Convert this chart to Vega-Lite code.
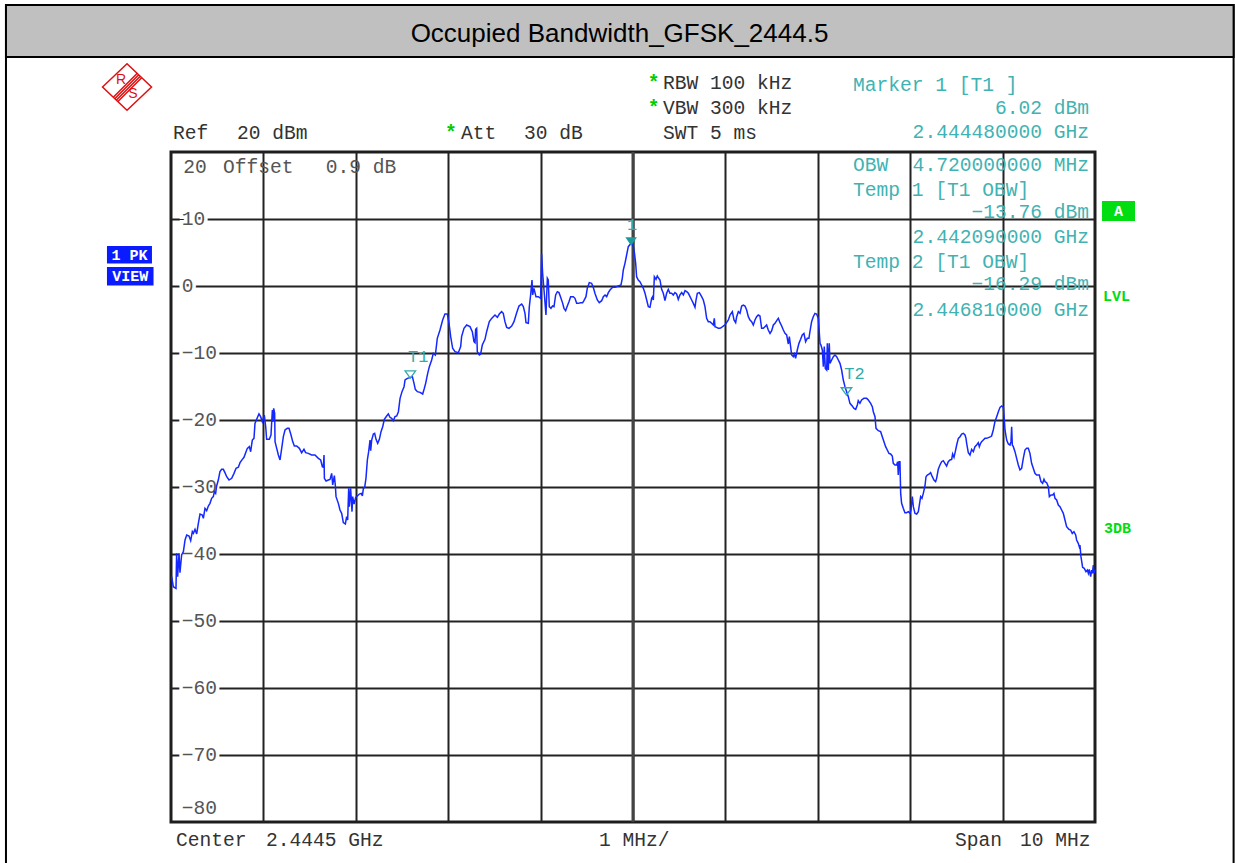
{
"$schema": "https://vega.github.io/schema/vega-lite/v6.json",
"width": 924, "height": 670,
"autosize": {"type": "none"},
"padding": {"left": 171, "top": 152, "right": 140, "bottom": 41},
"background": "white",
"config": {"view": {"stroke": "#1e1e1e", "strokeWidth": 3}, "text": {"font": "Liberation Mono", "fontSize": 19.6}},
"datasets": {
"trace": [
{"freq":2439.507,"level":-43.38},{"freq":2439.525,"level":-44.88},{"freq":2439.554,"level":-45.13},{"freq":2439.561,"level":-39.90},{"freq":2439.572,"level":-43.38},{"freq":2439.587,"level":-39.90},{"freq":2439.597,"level":-42.79},{"freq":2439.615,"level":-40.15},{"freq":2439.634,"level":-39.65},{"freq":2439.652,"level":-37.91},{"freq":2439.670,"level":-37.16},{"freq":2439.695,"level":-37.31},{"freq":2439.713,"level":-38.01},{"freq":2439.731,"level":-36.67},{"freq":2439.742,"level":-36.92},{"freq":2439.760,"level":-36.32},{"freq":2439.778,"level":-37.01},{"freq":2439.796,"level":-35.42},{"freq":2439.814,"level":-34.03},{"freq":2439.839,"level":-34.18},{"freq":2439.850,"level":-34.68},{"freq":2439.868,"level":-33.18},{"freq":2439.886,"level":-33.53},{"freq":2439.904,"level":-32.84},{"freq":2439.922,"level":-32.44},{"freq":2439.940,"level":-31.69},{"freq":2439.958,"level":-31.44},{"freq":2439.969,"level":-30.70},{"freq":2439.983,"level":-30.95},{"freq":2439.994,"level":-29.85},{"freq":2440.012,"level":-28.96},{"freq":2440.030,"level":-27.71},{"freq":2440.048,"level":-27.36},{"freq":2440.066,"level":-27.36},{"freq":2440.084,"level":-27.86},{"freq":2440.103,"level":-28.46},{"freq":2440.128,"level":-28.96},{"freq":2440.157,"level":-28.71},{"freq":2440.182,"level":-27.96},{"freq":2440.204,"level":-27.21},{"freq":2440.229,"level":-27.06},{"freq":2440.247,"level":-26.37},{"freq":2440.272,"level":-25.87},{"freq":2440.290,"level":-25.57},{"freq":2440.308,"level":-24.88},{"freq":2440.326,"level":-24.23},{"freq":2440.348,"level":-23.98},{"freq":2440.362,"level":-24.73},{"freq":2440.380,"level":-22.99},{"freq":2440.398,"level":-22.74},{"freq":2440.409,"level":-20.50},{"freq":2440.427,"level":-19.90},{"freq":2440.452,"level":-19.10},{"freq":2440.470,"level":-19.50},{"freq":2440.488,"level":-20.25},{"freq":2440.510,"level":-19.25},{"freq":2440.525,"level":-21.00},{"freq":2440.535,"level":-22.89},{"freq":2440.564,"level":-22.89},{"freq":2440.582,"level":-22.24},{"freq":2440.597,"level":-18.51},{"freq":2440.604,"level":-20.25},{"freq":2440.611,"level":-18.26},{"freq":2440.622,"level":-19.00},{"freq":2440.626,"level":-23.23},{"freq":2440.644,"level":-24.23},{"freq":2440.662,"level":-25.22},{"freq":2440.680,"level":-25.97},{"freq":2440.698,"level":-24.23},{"freq":2440.716,"level":-22.49},{"freq":2440.734,"level":-21.49},{"freq":2440.759,"level":-21.24},{"freq":2440.777,"level":-21.24},{"freq":2440.799,"level":-22.24},{"freq":2440.817,"level":-23.23},{"freq":2440.835,"level":-23.88},{"freq":2440.860,"level":-23.88},{"freq":2440.889,"level":-24.23},{"freq":2440.914,"level":-24.88},{"freq":2440.939,"level":-24.38},{"freq":2440.957,"level":-24.88},{"freq":2440.986,"level":-24.98},{"freq":2441.022,"level":-25.22},{"freq":2441.058,"level":-25.22},{"freq":2441.095,"level":-25.72},{"freq":2441.120,"level":-25.97},{"freq":2441.138,"level":-26.97},{"freq":2441.149,"level":-27.06},{"freq":2441.156,"level":-25.22},{"freq":2441.160,"level":-28.71},{"freq":2441.178,"level":-29.10},{"freq":2441.203,"level":-28.96},{"freq":2441.221,"level":-28.86},{"freq":2441.239,"level":-27.96},{"freq":2441.250,"level":-29.70},{"freq":2441.268,"level":-28.31},{"freq":2441.279,"level":-29.85},{"freq":2441.286,"level":-31.44},{"freq":2441.311,"level":-32.44},{"freq":2441.329,"level":-33.43},{"freq":2441.347,"level":-33.93},{"freq":2441.365,"level":-35.32},{"freq":2441.387,"level":-35.52},{"freq":2441.401,"level":-34.43},{"freq":2441.412,"level":-34.93},{"freq":2441.423,"level":-30.20},{"freq":2441.430,"level":-32.94},{"freq":2441.444,"level":-30.20},{"freq":2441.459,"level":-33.68},{"freq":2441.466,"level":-31.44},{"freq":2441.481,"level":-32.54},{"freq":2441.499,"level":-31.54},{"freq":2441.517,"level":-31.34},{"freq":2441.538,"level":-31.05},{"freq":2441.560,"level":-30.95},{"freq":2441.571,"level":-31.34},{"freq":2441.582,"level":-30.20},{"freq":2441.596,"level":-30.05},{"freq":2441.610,"level":-28.71},{"freq":2441.625,"level":-25.97},{"freq":2441.639,"level":-24.73},{"freq":2441.654,"level":-22.99},{"freq":2441.661,"level":-24.58},{"freq":2441.672,"level":-22.99},{"freq":2441.690,"level":-22.09},{"freq":2441.704,"level":-21.99},{"freq":2441.719,"level":-22.89},{"freq":2441.737,"level":-23.48},{"freq":2441.755,"level":-22.89},{"freq":2441.773,"level":-21.74},{"freq":2441.791,"level":-21.00},{"freq":2441.809,"level":-19.90},{"freq":2441.834,"level":-19.40},{"freq":2441.852,"level":-19.10},{"freq":2441.870,"level":-19.60},{"freq":2441.888,"level":-19.75},{"freq":2441.906,"level":-20.10},{"freq":2441.924,"level":-19.50},{"freq":2441.943,"level":-19.40},{"freq":2441.961,"level":-18.76},{"freq":2441.979,"level":-16.77},{"freq":2442.000,"level":-15.77},{"freq":2442.022,"level":-15.03},
{"freq":2442.033,"level":-14.03},{"freq":2442.058,"level":-13.78},{"freq":2442.087,"level":-13.68},{"freq":2442.112,"level":-13.53},{"freq":2442.130,"level":-14.53},{"freq":2442.144,"level":-15.42},{"freq":2442.166,"level":-15.77},{"freq":2442.195,"level":-15.87},{"freq":2442.224,"level":-16.12},{"freq":2442.242,"level":-15.27},{"freq":2442.256,"level":-14.53},{"freq":2442.278,"level":-13.03},{"freq":2442.296,"level":-12.04},{"freq":2442.321,"level":-11.04},{"freq":2442.339,"level":-10.05},{"freq":2442.361,"level":-10.30},{"freq":2442.382,"level":-7.81},{"freq":2442.411,"level":-6.57},{"freq":2442.440,"level":-5.07},{"freq":2442.465,"level":-4.18},{"freq":2442.491,"level":-4.18},{"freq":2442.509,"level":-5.57},{"freq":2442.527,"level":-7.56},{"freq":2442.548,"level":-9.30},{"freq":2442.574,"level":-9.80},{"freq":2442.610,"level":-9.95},
{"freq":2442.635,"level":-9.05},{"freq":2442.645,"level":-7.56},{"freq":2442.671,"level":-6.32},{"freq":2442.700,"level":-5.82},{"freq":2442.736,"level":-6.07},{"freq":2442.761,"level":-6.82},{"freq":2442.779,"level":-8.31},{"freq":2442.790,"level":-8.46},{"freq":2442.797,"level":-6.47},{"freq":2442.808,"level":-6.32},{"freq":2442.815,"level":-9.80},{"freq":2442.837,"level":-10.30},{"freq":2442.851,"level":-10.15},{"freq":2442.869,"level":-8.81},{"freq":2442.898,"level":-7.96},{"freq":2442.916,"level":-6.82},{"freq":2442.945,"level":-5.32},{"freq":2442.970,"level":-4.83},{"freq":2443.006,"level":-4.33},{"freq":2443.032,"level":-4.68},{"freq":2443.053,"level":-4.18},{"freq":2443.078,"level":-3.83},{"freq":2443.096,"level":-4.08},{"freq":2443.114,"level":-5.32},{"freq":2443.133,"level":-6.17},{"freq":2443.158,"level":-6.32},{"freq":2443.187,"level":-5.97},{"freq":2443.212,"level":-5.32},{"freq":2443.241,"level":-3.98},{"freq":2443.266,"level":-2.99},{"freq":2443.295,"level":-2.69},{"freq":2443.313,"level":-3.08},{"freq":2443.331,"level":-4.08},{"freq":2443.342,"level":-5.47},{"freq":2443.367,"level":-5.57},{"freq":2443.378,"level":-3.08},{"freq":2443.392,"level":-1.34},{"freq":2443.407,"level":0.90},{"freq":2443.414,"level":-1.34},{"freq":2443.428,"level":-0.35},{"freq":2443.450,"level":-1.59},{"freq":2443.475,"level":-1.59},{"freq":2443.500,"level":-1.84},{"freq":2443.511,"level":4.78},{"freq":2443.522,"level":1.89},{"freq":2443.537,"level":-0.60},{"freq":2443.558,"level":-4.33},{"freq":2443.573,"level":1.15},{"freq":2443.583,"level":0.90},{"freq":2443.594,"level":-3.08},{"freq":2443.612,"level":-3.33},{"freq":2443.630,"level":-2.99},{"freq":2443.645,"level":-3.08},{"freq":2443.663,"level":-1.34},{"freq":2443.681,"level":-0.85},{"freq":2443.699,"level":-0.99},{"freq":2443.717,"level":-1.69},{"freq":2443.739,"level":-2.59},{"freq":2443.753,"level":-3.33},{"freq":2443.771,"level":-3.68},{"freq":2443.789,"level":-2.99},{"freq":2443.807,"level":-2.34},{"freq":2443.825,"level":-1.59},{"freq":2443.854,"level":-1.59},{"freq":2443.872,"level":-1.84},{"freq":2443.890,"level":-2.59},{"freq":2443.908,"level":-2.59},{"freq":2443.933,"level":-2.49},{"freq":2443.955,"level":-2.49},{"freq":2443.969,"level":-2.19},{"freq":2443.991,"level":-1.59},{"freq":2444.005,"level":-0.35},{"freq":2444.027,"level":0.50},{"freq":2444.052,"level":0.40},{"freq":2444.070,"level":-0.20},{"freq":2444.088,"level":-1.09},{"freq":2444.114,"level":-2.09},{"freq":2444.135,"level":-2.49},{"freq":2444.161,"level":-2.19},{"freq":2444.179,"level":-1.59},{"freq":2444.197,"level":-1.34},{"freq":2444.215,"level":-1.59},{"freq":2444.233,"level":-0.99},{"freq":2444.251,"level":-0.60},{"freq":2444.280,"level":-0.20},{"freq":2444.305,"level":-0.20},{"freq":2444.341,"level":0.00},{"freq":2444.370,"level":0.15},{"freq":2444.384,"level":1.15},{"freq":2444.395,"level":2.39},{"freq":2444.413,"level":3.38},{"freq":2444.431,"level":4.63},{"freq":2444.449,"level":5.87},{"freq":2444.474,"level":6.27},{"freq":2444.496,"level":6.37},{"freq":2444.514,"level":5.12},{"freq":2444.529,"level":3.38},{"freq":2444.539,"level":1.39},{"freq":2444.557,"level":0.90},{"freq":2444.575,"level":0.65},{"freq":2444.594,"level":0.15},{"freq":2444.612,"level":-0.35},{"freq":2444.630,"level":-1.09},{"freq":2444.648,"level":-2.09},{"freq":2444.666,"level":-3.08},{"freq":2444.684,"level":-3.18},{"freq":2444.702,"level":-1.84},{"freq":2444.713,"level":-1.59},{"freq":2444.720,"level":-2.09},{"freq":2444.731,"level":1.39},{"freq":2444.749,"level":0.99},{"freq":2444.763,"level":1.49},{"freq":2444.778,"level":1.15},{"freq":2444.792,"level":0.90},{"freq":2444.810,"level":-0.50},{"freq":2444.828,"level":-1.09},{"freq":2444.846,"level":-2.19},{"freq":2444.864,"level":-1.09},{"freq":2444.882,"level":-0.50},{"freq":2444.900,"level":-1.09},{"freq":2444.918,"level":-1.09},{"freq":2444.936,"level":-1.34},{"freq":2444.954,"level":-0.99},{"freq":2444.972,"level":-1.19},{"freq":2444.990,"level":-1.99},{"freq":2445.008,"level":-1.34},{"freq":2445.027,"level":-0.99},{"freq":2445.045,"level":-1.34},{"freq":2445.063,"level":-0.70},{"freq":2445.081,"level":-0.85},{"freq":2445.099,"level":-1.09},{"freq":2445.117,"level":-1.59},{"freq":2445.135,"level":-2.09},{"freq":2445.153,"level":-2.59},{"freq":2445.171,"level":-3.18},{"freq":2445.182,"level":-2.09},{"freq":2445.196,"level":-1.09},{"freq":2445.218,"level":-0.99},{"freq":2445.243,"level":-1.59},{"freq":2445.261,"level":-2.09},{"freq":2445.279,"level":-3.08},{"freq":2445.297,"level":-4.83},{"freq":2445.315,"level":-5.32},{"freq":2445.333,"level":-5.32},{"freq":2445.351,"level":-5.57},{"freq":2445.369,"level":-5.82},{"freq":2445.380,"level":-4.83},{"freq":2445.387,"level":-6.07},{"freq":2445.405,"level":-6.17},{"freq":2445.423,"level":-6.32},{"freq":2445.441,"level":-6.32},{"freq":2445.459,"level":-6.17},{"freq":2445.477,"level":-5.97},{"freq":2445.495,"level":-5.82},{"freq":2445.513,"level":-5.47},{"freq":2445.532,"level":-5.07},{"freq":2445.550,"level":-4.33},{"freq":2445.575,"level":-3.83},{"freq":2445.593,"level":-5.07},{"freq":2445.611,"level":-5.47},{"freq":2445.622,"level":-4.58},{"freq":2445.640,"level":-3.83},{"freq":2445.658,"level":-4.08},{"freq":2445.676,"level":-2.99},{"freq":2445.694,"level":-2.84},{"freq":2445.712,"level":-2.99},{"freq":2445.730,"level":-3.58},{"freq":2445.748,"level":-4.58},{"freq":2445.766,"level":-5.07},{"freq":2445.784,"level":-5.32},{"freq":2445.802,"level":-5.82},{"freq":2445.820,"level":-5.07},{"freq":2445.838,"level":-4.58},{"freq":2445.856,"level":-4.33},{"freq":2445.874,"level":-4.48},{"freq":2445.892,"level":-6.32},{"freq":2445.910,"level":-6.32},{"freq":2445.928,"level":-6.07},{"freq":2445.946,"level":-5.82},{"freq":2445.964,"level":-6.57},{"freq":2445.983,"level":-7.07},{"freq":2446.001,"level":-6.67},{"freq":2446.019,"level":-5.82},{"freq":2446.037,"level":-5.57},{"freq":2446.055,"level":-5.17},{"freq":2446.073,"level":-4.83},{"freq":2446.091,"level":-5.47},{"freq":2446.109,"level":-5.97},{"freq":2446.127,"level":-6.57},{"freq":2446.145,"level":-7.07},{"freq":2446.163,"level":-7.31},{"freq":2446.181,"level":-8.66},{"freq":2446.192,"level":-7.56},{"freq":2446.206,"level":-9.05},{"freq":2446.217,"level":-10.30},{"freq":2446.235,"level":-10.55},{"freq":2446.246,"level":-10.15},{"freq":2446.260,"level":-10.80},{"freq":2446.278,"level":-9.55},{"freq":2446.296,"level":-8.56},{"freq":2446.314,"level":-7.96},{"freq":2446.332,"level":-7.31},{"freq":2446.350,"level":-7.07},{"freq":2446.368,"level":-8.31},{"freq":2446.386,"level":-7.81},{"freq":2446.404,"level":-7.81},{"freq":2446.415,"level":-6.82},{"freq":2446.433,"level":-5.32},{"freq":2446.451,"level":-4.58},{"freq":2446.469,"level":-4.08},{"freq":2446.487,"level":-4.18},{"freq":2446.506,"level":-4.83},{"freq":2446.524,"level":-8.56},{"freq":2446.534,"level":-8.81},{"freq":2446.549,"level":-9.55},{"freq":2446.560,"level":-12.04},{"freq":2446.570,"level":-9.05},{"freq":2446.581,"level":-12.29},{"freq":2446.596,"level":-12.54},{"freq":2446.603,"level":-8.56},{"freq":2446.614,"level":-12.54},{"freq":2446.624,"level":-8.56},{"freq":2446.632,"level":-11.54},{"freq":2446.650,"level":-11.04},{"freq":2446.668,"level":-10.55},{"freq":2446.686,"level":-10.30},{"freq":2446.704,"level":-10.55},{"freq":2446.722,"level":-11.04},{"freq":2446.740,"level":-11.54},{"freq":2446.758,"level":-12.54},{"freq":2446.776,"level":-14.03},{"freq":2446.794,"level":-15.02},{"freq":2446.812,"level":-15.77},{"freq":2446.830,"level":-16.52},
{"freq":2446.848,"level":-17.51},{"freq":2446.873,"level":-17.91},{"freq":2446.892,"level":-18.26},{"freq":2446.910,"level":-18.41},{"freq":2446.928,"level":-17.76},{"freq":2446.938,"level":-17.11},{"freq":2446.956,"level":-17.51},{"freq":2446.974,"level":-17.01},{"freq":2446.999,"level":-16.77},{"freq":2447.029,"level":-16.77},{"freq":2447.047,"level":-17.01},{"freq":2447.072,"level":-17.51},{"freq":2447.090,"level":-18.01},{"freq":2447.101,"level":-18.76},{"freq":2447.119,"level":-19.50},{"freq":2447.130,"level":-21.24},{"freq":2447.155,"level":-21.59},{"freq":2447.180,"level":-21.74},{"freq":2447.198,"level":-22.49},{"freq":2447.216,"level":-23.23},{"freq":2447.234,"level":-23.98},{"freq":2447.252,"level":-24.48},{"freq":2447.270,"level":-24.98},{"freq":2447.288,"level":-25.07},{"freq":2447.306,"level":-25.37},{"freq":2447.317,"level":-26.47},{"freq":2447.335,"level":-26.72},{"freq":2447.353,"level":-26.72},{"freq":2447.364,"level":-26.22},{"freq":2447.371,"level":-28.21},{"freq":2447.379,"level":-26.22},{"freq":2447.389,"level":-26.22},{"freq":2447.397,"level":-30.95},{"freq":2447.407,"level":-32.44},{"freq":2447.425,"level":-33.18},{"freq":2447.443,"level":-33.83},{"freq":2447.461,"level":-33.83},{"freq":2447.480,"level":-33.68},{"freq":2447.498,"level":-33.93},{"freq":2447.508,"level":-33.43},{"freq":2447.523,"level":-31.44},{"freq":2447.534,"level":-32.94},{"freq":2447.552,"level":-33.93},{"freq":2447.570,"level":-34.03},{"freq":2447.588,"level":-33.68},{"freq":2447.599,"level":-32.69},{"freq":2447.613,"level":-31.44},{"freq":2447.627,"level":-31.69},{"freq":2447.642,"level":-30.95},{"freq":2447.660,"level":-29.85},{"freq":2447.671,"level":-28.46},{"freq":2447.685,"level":-28.21},{"freq":2447.707,"level":-28.06},{"freq":2447.721,"level":-27.86},{"freq":2447.739,"level":-28.46},{"freq":2447.757,"level":-28.96},{"freq":2447.775,"level":-29.20},{"freq":2447.786,"level":-28.71},{"freq":2447.804,"level":-27.36},{"freq":2447.822,"level":-26.72},{"freq":2447.840,"level":-26.22},{"freq":2447.858,"level":-26.07},{"freq":2447.876,"level":-26.47},{"freq":2447.894,"level":-26.87},{"freq":2447.912,"level":-26.22},{"freq":2447.930,"level":-25.97},{"freq":2447.949,"level":-25.87},{"freq":2447.959,"level":-25.07},{"freq":2447.974,"level":-25.57},{"freq":2447.988,"level":-24.73},{"freq":2448.003,"level":-23.73},{"freq":2448.021,"level":-22.74},{"freq":2448.039,"level":-22.49},{"freq":2448.057,"level":-22.09},{"freq":2448.075,"level":-21.99},{"freq":2448.093,"level":-22.24},{"freq":2448.104,"level":-22.74},{"freq":2448.111,"level":-23.48},{"freq":2448.129,"level":-24.88},{"freq":2448.147,"level":-25.22},{"freq":2448.165,"level":-24.38},{"freq":2448.183,"level":-24.73},{"freq":2448.201,"level":-23.98},{"freq":2448.219,"level":-23.73},{"freq":2448.237,"level":-23.38},{"freq":2448.248,"level":-23.98},{"freq":2448.262,"level":-23.48},{"freq":2448.273,"level":-23.23},{"freq":2448.291,"level":-22.99},{"freq":2448.309,"level":-22.74},{"freq":2448.327,"level":-22.74},{"freq":2448.353,"level":-22.59},{"freq":2448.371,"level":-22.49},{"freq":2448.381,"level":-22.39},{"freq":2448.399,"level":-21.49},{"freq":2448.417,"level":-20.25},{"freq":2448.436,"level":-19.50},{"freq":2448.454,"level":-18.76},{"freq":2448.472,"level":-18.11},{"freq":2448.490,"level":-17.91},{"freq":2448.508,"level":-18.11},{"freq":2448.515,"level":-19.25},{"freq":2448.526,"level":-21.49},{"freq":2448.544,"level":-22.99},{"freq":2448.562,"level":-23.58},{"freq":2448.580,"level":-23.73},{"freq":2448.591,"level":-23.23},{"freq":2448.598,"level":-21.00},{"freq":2448.605,"level":-23.73},{"freq":2448.616,"level":-23.98},{"freq":2448.634,"level":-24.73},{"freq":2448.652,"level":-25.72},{"freq":2448.670,"level":-26.72},{"freq":2448.688,"level":-27.46},{"freq":2448.706,"level":-27.21},{"freq":2448.724,"level":-25.72},{"freq":2448.742,"level":-24.48},{"freq":2448.760,"level":-24.23},{"freq":2448.778,"level":-24.23},{"freq":2448.796,"level":-24.98},{"freq":2448.814,"level":-26.47},{"freq":2448.832,"level":-27.21},{"freq":2448.850,"level":-27.96},{"freq":2448.868,"level":-28.21},{"freq":2448.897,"level":-28.21},{"freq":2448.915,"level":-29.20},{"freq":2448.933,"level":-29.45},{"freq":2448.948,"level":-28.86},{"freq":2448.959,"level":-29.20},{"freq":2448.977,"level":-29.35},{"freq":2448.995,"level":-29.95},{"freq":2449.006,"level":-31.44},{"freq":2449.024,"level":-31.19},{"freq":2449.042,"level":-31.19},{"freq":2449.056,"level":-30.95},{"freq":2449.067,"level":-31.69},{"freq":2449.085,"level":-31.94},{"freq":2449.103,"level":-32.69},{"freq":2449.121,"level":-32.94},{"freq":2449.139,"level":-33.43},{"freq":2449.157,"level":-33.93},{"freq":2449.175,"level":-34.93},{"freq":2449.193,"level":-35.92},{"freq":2449.218,"level":-36.32},{"freq":2449.236,"level":-36.42},{"freq":2449.254,"level":-36.92},{"freq":2449.272,"level":-36.67},{"freq":2449.291,"level":-37.16},{"freq":2449.301,"level":-37.91},{"freq":2449.319,"level":-38.41},{"freq":2449.330,"level":-38.91},{"freq":2449.337,"level":-38.66},{"freq":2449.348,"level":-40.40},{"freq":2449.366,"level":-41.99},{"freq":2449.384,"level":-42.14},{"freq":2449.402,"level":-42.64},{"freq":2449.417,"level":-42.39},{"freq":2449.428,"level":-42.89},{"freq":2449.438,"level":-42.29},{"freq":2449.453,"level":-43.38},{"freq":2449.464,"level":-42.39},{"freq":2449.471,"level":-42.89},{"freq":2449.482,"level":-41.64},{"freq":2449.489,"level":-42.89},{"freq":2449.500,"level":-42.39}
],
"markers": [
{"marker":"1","freq":2444.48,"level":6.02,"kind":"main"},
{"marker":"T1","freq":2442.09,"level":-13.76,"kind":"temp"},
{"marker":"T2","freq":2446.81,"level":-16.29,"kind":"temp"}
],
"ticks": [
{"level":10,"label":"10"},{"level":0,"label":"0"},{"level":-10,"label":"−10"},{"level":-20,"label":"−20"},{"level":-30,"label":"−30"},{"level":-40,"label":"−40"},{"level":-50,"label":"−50"},{"level":-60,"label":"−60"},{"level":-70,"label":"−70"}
],
"info_left": [
{"level":30.06,"text":"Marker 1 [T1 ]"},{"level":18.13,"text":"OBW"},{"level":14.40,"text":"Temp 1 [T1 OBW]"},{"level":3.63,"text":"Temp 2 [T1 OBW]"}
],
"info_right": [
{"level":26.57,"text":"6.02 dBm"},{"level":22.99,"text":"2.444480000 GHz"},{"level":18.13,"text":"4.720000000 MHz"},{"level":11.04,"text":"−13.76 dBm"},{"level":7.31,"text":"2.442090000 GHz"},{"level":0.30,"text":"−16.29 dBm"},{"level":-3.51,"text":"2.446810000 GHz"}
],
"settings": [
{"freq":2444.825,"level":30.34,"text":"RBW 100 kHz"},
{"freq":2444.825,"level":26.57,"text":"VBW 300 kHz"},
{"freq":2444.825,"level":22.79,"text":"SWT 5 ms"},
{"freq":2439.522,"level":22.79,"text":"Ref"},
{"freq":2440.214,"level":22.79,"text":"20 dBm"},
{"freq":2442.639,"level":22.79,"text":"Att"},
{"freq":2443.320,"level":22.79,"text":"30 dB"},
{"freq":2439.554,"level":-82.69,"text":"Center"},
{"freq":2440.528,"level":-82.69,"text":"2.4445 GHz"},
{"freq":2444.132,"level":-82.69,"text":"1 MHz/"},
{"freq":2447.985,"level":-82.69,"text":"Span"},
{"freq":2448.688,"level":-82.69,"text":"10 MHz"}
],
"grid_notes": [
{"freq":2439.633,"level":17.81,"text":"20"},
{"freq":2440.063,"level":17.81,"text":"Offset"},
{"freq":2441.174,"level":17.81,"text":"0.9 dB"},
{"freq":2439.616,"level":-77.91,"text":"−80"}
],
"stars": [
{"freq":2444.722,"level":30.34},{"freq":2444.722,"level":26.57},{"freq":2442.528,"level":22.79}
],
"blue_boxes": [
{"freq":2438.807,"freq2":2439.294,"level":5.97,"level2":3.36,"text":"1 PK"},
{"freq":2438.807,"freq2":2439.311,"level":2.84,"level2":0.07,"text":"VIEW"}
],
"green_boxes": [
{"freq":2449.576,"freq2":2449.933,"level":12.69,"level2":9.70,"text":"A"}
],
"green_labels": [
{"freq":2449.587,"level":-1.49,"text":"LVL"},
{"freq":2449.597,"level":-36.12,"text":"3DB"}
],
"logo_letters": [
{"freq":2438.959,"level":30.75,"text":"R"},
{"freq":2439.089,"level":28.66,"text":"S"}
]
},
"layer": [
{"data": {"values": [{}]}, "mark": {"type": "rect", "filled": false, "stroke": "#000000", "strokeWidth": 2},
 "encoding": {"x": {"datum": 2437.714, "type": "quantitative"}, "x2": {"datum": 2451.0}, "y": {"datum": 41.94, "type": "quantitative"}, "y2": {"datum": -95}}},
{"data": {"values": [{}]}, "mark": {"type": "rect", "fill": "#c0c0c0", "stroke": "#000000", "strokeWidth": 2},
 "encoding": {"x": {"datum": 2437.714, "type": "quantitative"}, "x2": {"datum": 2451.0}, "y": {"datum": 41.94, "type": "quantitative"}, "y2": {"datum": 34.18}}},
{"data": {"values": [{"text": "Occupied Bandwidth_GFSK_2444.5"}]}, "mark": {"type": "text", "font": "Liberation Sans", "fontSize": 26, "color": "#000000", "align": "center", "baseline": "middle"},
 "encoding": {"x": {"datum": 2444.354, "type": "quantitative"}, "y": {"datum": 37.6, "type": "quantitative"}, "text": {"field": "text"}}},
{"data": {"name": "ticks"}, "mark": {"type": "text", "align": "left", "baseline": "middle", "fill": "white", "stroke": "white", "strokeWidth": 7},
 "encoding": {"x": {"datum": 2439.616, "type": "quantitative"}, "y": {"field": "level", "type": "quantitative"}, "text": {"field": "label"}}},
{"data": {"name": "ticks"}, "mark": {"type": "text", "align": "left", "baseline": "middle", "color": "#555555"},
 "encoding": {"x": {"datum": 2439.616, "type": "quantitative"}, "y": {"field": "level", "type": "quantitative"}, "text": {"field": "label"}}},
{"data": {"values": [{}]}, "mark": {"type": "rule", "color": "#444444", "strokeWidth": 3},
 "encoding": {"x": {"datum": 2444.5, "type": "quantitative"}}},
{"data": {"name": "trace"}, "mark": {"type": "line", "color": "#1428ff", "strokeWidth": 1.5},
 "encoding": {
  "x": {"field": "freq", "type": "quantitative", "scale": {"domain": [2439.5, 2449.5], "nice": false, "zero": false},
        "axis": {"title": null, "grid": true, "labels": false, "ticks": false, "domain": false, "values": [2440.5, 2441.5, 2442.5, 2443.5, 2444.5, 2445.5, 2446.5, 2447.5, 2448.5], "gridColor": "#222222", "gridWidth": 2, "gridOpacity": 1}},
  "y": {"field": "level", "type": "quantitative", "scale": {"domain": [-80, 20], "nice": false, "zero": false},
        "axis": {"title": null, "grid": true, "labels": false, "ticks": false, "domain": false, "values": [10, 0, -10, -20, -30, -40, -50, -60, -70], "gridColor": "#222222", "gridWidth": 2, "gridOpacity": 1}}
 }},
{"data": {"name": "markers"}, "transform": [{"filter": "datum.kind == 'main'"}],
 "mark": {"type": "point", "shape": "M-1,-1.45L1,-1.45L0,0Z", "size": 135, "filled": true, "fill": "#1f9a9a", "opacity": 1},
 "encoding": {"x": {"field": "freq", "type": "quantitative"}, "y": {"field": "level", "type": "quantitative"}}},
{"data": {"name": "markers"}, "transform": [{"filter": "datum.kind == 'temp'"}],
 "mark": {"type": "point", "shape": "M-1,-1.4L1,-1.4L0,0Z", "size": 112, "filled": false, "stroke": "#33aaaa", "strokeWidth": 1.3, "opacity": 1},
 "encoding": {"x": {"field": "freq", "type": "quantitative"}, "y": {"field": "level", "type": "quantitative"}}},
{"data": {"name": "markers"}, "transform": [{"filter": "datum.kind == 'main'"}],
 "mark": {"type": "text", "align": "center", "baseline": "middle", "dx": 1, "dy": -21, "color": "#33aaaa", "fontSize": 17},
 "encoding": {"x": {"field": "freq", "type": "quantitative"}, "y": {"field": "level", "type": "quantitative"}, "text": {"field": "marker"}}},
{"data": {"name": "markers"}, "transform": [{"filter": "datum.kind == 'temp'"}],
 "mark": {"type": "text", "align": "center", "baseline": "middle", "dx": 8, "dy": -21, "color": "#33aaaa", "fontSize": 17},
 "encoding": {"x": {"field": "freq", "type": "quantitative"}, "y": {"field": "level", "type": "quantitative"}, "text": {"field": "marker"}}},
{"data": {"name": "info_left"}, "mark": {"type": "text", "align": "left", "baseline": "middle", "color": "#3fb3b3"},
 "encoding": {"x": {"datum": 2446.881, "type": "quantitative"}, "y": {"field": "level", "type": "quantitative"}, "text": {"field": "text"}}},
{"data": {"name": "info_right"}, "mark": {"type": "text", "align": "right", "baseline": "middle", "color": "#3fb3b3"},
 "encoding": {"x": {"datum": 2449.435, "type": "quantitative"}, "y": {"field": "level", "type": "quantitative"}, "text": {"field": "text"}}},
{"data": {"name": "settings"}, "mark": {"type": "text", "align": "left", "baseline": "middle", "color": "#333333"},
 "encoding": {"x": {"field": "freq", "type": "quantitative"}, "y": {"field": "level", "type": "quantitative"}, "text": {"field": "text"}}},
{"data": {"name": "grid_notes"}, "mark": {"type": "text", "align": "left", "baseline": "middle", "color": "#555555"},
 "encoding": {"x": {"field": "freq", "type": "quantitative"}, "y": {"field": "level", "type": "quantitative"}, "text": {"field": "text"}}},
{"data": {"name": "stars"}, "mark": {"type": "text", "align": "center", "baseline": "middle", "color": "#00cc00", "fontWeight": "bold", "text": "*"},
 "encoding": {"x": {"field": "freq", "type": "quantitative"}, "y": {"field": "level", "type": "quantitative"}}},
{"data": {"name": "blue_boxes"}, "mark": {"type": "rect", "color": "#0a1cff"},
 "encoding": {"x": {"field": "freq", "type": "quantitative"}, "x2": {"field": "freq2"}, "y": {"field": "level", "type": "quantitative"}, "y2": {"field": "level2"}}},
{"data": {"name": "blue_boxes"}, "transform": [{"calculate": "(datum.freq + datum.freq2) / 2", "as": "fmid"}, {"calculate": "(datum.level + datum.level2) / 2", "as": "lmid"}],
 "mark": {"type": "text", "align": "center", "baseline": "middle", "color": "white", "fontWeight": "bold", "fontSize": 15},
 "encoding": {"x": {"field": "fmid", "type": "quantitative"}, "y": {"field": "lmid", "type": "quantitative"}, "text": {"field": "text"}}},
{"data": {"name": "green_boxes"}, "mark": {"type": "rect", "color": "#00dd11"},
 "encoding": {"x": {"field": "freq", "type": "quantitative"}, "x2": {"field": "freq2"}, "y": {"field": "level", "type": "quantitative"}, "y2": {"field": "level2"}}},
{"data": {"name": "green_boxes"}, "transform": [{"calculate": "(datum.freq + datum.freq2) / 2", "as": "fmid"}, {"calculate": "(datum.level + datum.level2) / 2", "as": "lmid"}],
 "mark": {"type": "text", "align": "center", "baseline": "middle", "color": "white", "fontWeight": "bold", "fontSize": 15},
 "encoding": {"x": {"field": "fmid", "type": "quantitative"}, "y": {"field": "lmid", "type": "quantitative"}, "text": {"field": "text"}}},
{"data": {"name": "green_labels"}, "mark": {"type": "text", "align": "left", "baseline": "middle", "color": "#00dd11", "fontWeight": "bold", "fontSize": 15},
 "encoding": {"x": {"field": "freq", "type": "quantitative"}, "y": {"field": "level", "type": "quantitative"}, "text": {"field": "text"}}},
{"data": {"values": [{}]}, "mark": {"type": "point", "shape": "M-1,0L0,-0.95L1,0L0,0.95ZM0.55,-0.45L-0.45,0.55M0.49,-0.51L-0.51,0.49M0.61,-0.39L-0.39,0.61M0.43,-0.57L-0.57,0.43", "size": 2400, "filled": false, "stroke": "#dd1111", "strokeWidth": 1.5, "opacity": 1},
 "encoding": {"x": {"datum": 2439.024, "type": "quantitative"}, "y": {"datum": 29.7, "type": "quantitative"}}},
{"data": {"name": "logo_letters"}, "mark": {"type": "text", "align": "center", "baseline": "middle", "color": "#dd1111", "font": "Liberation Sans", "fontSize": 14},
 "encoding": {"x": {"field": "freq", "type": "quantitative"}, "y": {"field": "level", "type": "quantitative"}, "text": {"field": "text"}}}
]
}
